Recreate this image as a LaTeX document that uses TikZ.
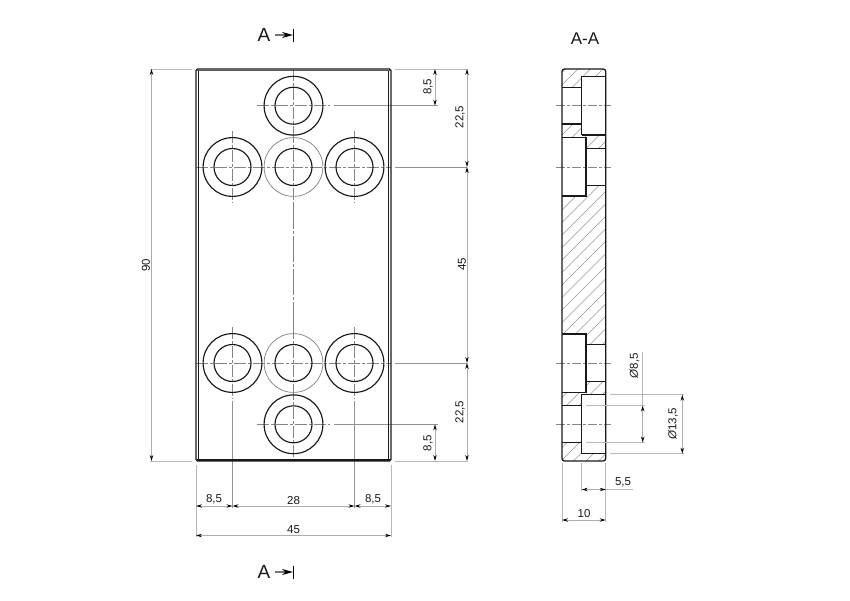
\documentclass[tikz,border=0pt]{standalone}
\usepackage{fontspec}
\setmainfont{Liberation Sans}
\usetikzlibrary{arrows.meta}
\tikzset{
 x=1pt,y=-1pt,
 obj/.style={line width=1.3pt,draw=black!90},
 hole/.style={line width=1.15pt,draw=black!90},
 hid/.style={line width=0.7pt,draw=black!50},
 thin1/.style={line width=0.7pt,draw=black!42},
 dimext/.style={line width=0.85pt,draw=black!28},
 dimln/.style={line width=0.85pt,draw=black!32,{Stealth[length=6pt,width=3.4pt,black]}-{Stealth[length=6pt,width=3.4pt,black]}},
 cl/.style={line width=0.75pt,draw=black!48,dash pattern=on 12pt off 2pt on 3pt off 2pt},
 hatchln/.style={line width=0.45pt,draw=black!40},
 dimtxt/.style={font=\fontsize{11.5}{13}\selectfont,text=black!90,inner sep=0pt},
 big/.style={font=\fontsize{19}{22}\selectfont,text=black!90,inner sep=0pt},
}
\begin{document}
\begin{tikzpicture}
\useasboundingbox (0,0) rectangle (850,600);
\fill[white] (0,0) rectangle (850,600);
% ---- centre lines, front view
\foreach \y in {167,363}{
  \draw[cl] (196,\y) -- (391,\y);
  \draw[thin1] (395,\y) -- (467,\y);
}
\foreach \y in {105.7,424.3}{
  \draw[cl] (257,\y) -- (330,\y);
  \draw[thin1] (334,\y) -- (438,\y);
}
\foreach \x in {232.5,354.5}{
  \draw[cl] (\x,131) -- (\x,203);
  \draw[cl] (\x,327) -- (\x,399);
  \draw[thin1] (\x,401) -- (\x,508);
}
\draw[cl] (293.5,69) -- (293.5,142);
\draw[cl] (293.5,131) -- (293.5,203);
\draw[hid,dash pattern=on 26pt off 2pt on 3pt off 2pt] (293.5,203) -- (293.5,333);
\draw[cl] (293.5,327) -- (293.5,399);
\draw[cl] (293.5,388) -- (293.5,461);
% ---- holes
\foreach \x/\y in {293.5/105.7,232.5/167,354.5/167,232.5/363,354.5/363,293.5/424.3}{
  \draw[hole] (\x,\y) circle (29.4);
  \draw[hole] (\x,\y) circle (18.5);
}
\foreach \y in {167,363}{
  \draw[hid] (293.5,\y) circle (29.4);
  \draw[hole] (293.5,\y) circle (18.5);
}
% ---- plate
\draw[obj,rounded corners=1.5pt] (196,69) rectangle (391,461);
\draw[line width=1pt,draw=black!90] (198.2,69.5) -- (198.2,460.5);
\draw[line width=1pt,draw=black!90] (388.8,69.5) -- (388.8,460.5);
\draw[line width=1.6pt,draw=black!65] (197,70.5) -- (390,70.5);
\draw[line width=1.4pt,draw=black!90] (197,460) -- (390,460);
% ---- dimensions, front view
\draw[dimext] (150,69) -- (192,69);
\draw[dimext] (150,461) -- (192,461);
\draw[dimln] (151.5,69) -- (151.5,461);
\node[dimtxt,rotate=90] (t90) at (146,265) {90};
\draw[dimext] (395,69) -- (468,69);
\draw[dimext] (395,461) -- (468,461);
\draw[dimln] (467,69) -- (467,167);
\draw[dimln] (467,167) -- (467,363);
\draw[dimln] (467,363) -- (467,461);
\draw[dimln] (435,69) -- (435,105.7);
\draw[dimln] (435,424.3) -- (435,461);
\node[dimtxt,rotate=90] (t85a) at (428,87) {8,5};
\node[dimtxt,rotate=90] (t85b) at (428,443) {8,5};
\node[dimtxt,rotate=90] (t225a) at (460,117) {22,5};
\node[dimtxt,rotate=90] (t225b) at (460,412) {22,5};
\node[dimtxt,rotate=90] (t45v) at (462,264) {45};
\draw[dimext] (196,465) -- (196,537);
\draw[dimext] (391,465) -- (391,537);
\draw[dimln] (196,506) -- (232.5,506);
\draw[dimln] (232.5,506) -- (354.5,506);
\draw[dimln] (354.5,506) -- (391,506);
\draw[dimln] (196,535.5) -- (391,535.5);
\node[dimtxt] (t85c) at (214,499) {8,5};
\node[dimtxt] (t28) at (293.5,500.5) {28};
\node[dimtxt] (t85d) at (373,499) {8,5};
\node[dimtxt] (t45h) at (293.5,530) {45};
% ---- section markers
\node[big] (atop) at (264,35) {A};
\node[big] (abot) at (264,572) {A};
\foreach \y in {35,572}{
  \draw[line width=1.4pt,draw=black!55,-{Stealth[length=11pt,width=6pt,black]}] (275,\y) -- (293,\y);
  \draw[line width=1.1pt,draw=black] (293.5,\y-6.5) -- (293.5,\y+6.5);
}
\node[big,font=\fontsize{17}{20}\selectfont] (aa) at (585,39) {A-A};
% ---- section view: hatching
\begin{scope}
\clip (562,87.3) -- (581.7,87.3) -- (581.7,76.3) -- (605.7,76.3) -- (605.7,69) -- (562,69) -- cycle
      (562,124) -- (581.7,124) -- (581.7,135) -- (605.7,135) -- (605.7,148.3) -- (586,148.3) -- (586,137.3) -- (562,137.3) -- cycle
      (562,196) -- (586,196) -- (586,185.5) -- (605.7,185.5) -- (605.7,344.5) -- (586,344.5) -- (586,334) -- (562,334) -- cycle
      (562,392.7) -- (586,392.7) -- (586,381.5) -- (605.7,381.5) -- (605.7,394.7) -- (581.7,394.7) -- (581.7,405.5) -- (562,405.5) -- cycle
      (562,442.5) -- (581.7,442.5) -- (581.7,453.7) -- (605.7,453.7) -- (605.7,461) -- (562,461) -- cycle;
\foreach \k in {0,...,44}{
  \draw[hatchln] ({562+\k*12.5-420},480) -- ({562+\k*12.5},60);
}
\end{scope}
% ---- section view: centre lines
\foreach \y in {105.7,167,363,424.3}{
  \draw[cl,dash pattern=on 9pt off 2pt on 3pt off 2pt] (556,\y) -- (611,\y);
}
% ---- section view: outline
\draw[obj,rounded corners=2.5pt] (562,69) rectangle (605.7,461);
\draw[obj,line width=1.1pt] (562,87.3) -- (581.7,87.3);
\draw[obj,line width=1.1pt] (562,124) -- (581.7,124);
\draw[obj,line width=1.1pt] (581.7,135) -- (581.7,76.3) -- (605.7,76.3);
\draw[obj,line width=1.1pt] (581.7,135) -- (605.7,135);
\draw[obj,line width=1.1pt] (562,137.3) -- (586,137.3) -- (586,196) -- (562,196);
\draw[obj,line width=1.1pt] (586,148.3) -- (605.7,148.3);
\draw[obj,line width=1.1pt] (586,185.5) -- (605.7,185.5);
\draw[obj,line width=1.1pt] (562,334) -- (586,334) -- (586,392.7) -- (562,392.7);
\draw[obj,line width=1.1pt] (586,344.5) -- (605.7,344.5);
\draw[obj,line width=1.1pt] (586,381.5) -- (605.7,381.5);
\draw[obj,line width=1.1pt] (605.7,394.7) -- (581.7,394.7) -- (581.7,453.7) -- (605.7,453.7);
\draw[obj,line width=1.1pt] (562,405.5) -- (581.7,405.5);
\draw[obj,line width=1.1pt] (562,442.5) -- (581.7,442.5);
% ---- section view: dimensions
\draw[dimext] (586,405.5) -- (645,405.5);
\draw[dimext] (586,442.5) -- (645,442.5);
\draw[dimln] (642.7,405.5) -- (642.7,442.5);
\draw[dimext] (642.7,352) -- (642.7,405.5);
\draw[dimext] (610,394.7) -- (684,394.7);
\draw[dimext] (610,453.7) -- (684,453.7);
\draw[dimln] (682.3,394.7) -- (682.3,453.7);
\node[dimtxt,rotate=90] (d85) at (634.5,366) {\textit{Ø}8,5};
\node[dimtxt,rotate=90] (d135) at (673,424) {\textit{Ø}13,5};
\draw[dimext] (581.7,463) -- (581.7,491);
\draw[dimext] (605.7,463) -- (605.7,522);
\draw[dimext] (562,463) -- (562,522);
\draw[dimln] (581.7,489.5) -- (605.7,489.5);
\draw[dimext] (605.7,489.5) -- (633,489.5);
\draw[dimln] (562,520) -- (605.7,520);
\node[dimtxt] (t55) at (623,482) {5,5};
\node[dimtxt] (t10) at (584,514) {10};
\end{tikzpicture}
\end{document}
